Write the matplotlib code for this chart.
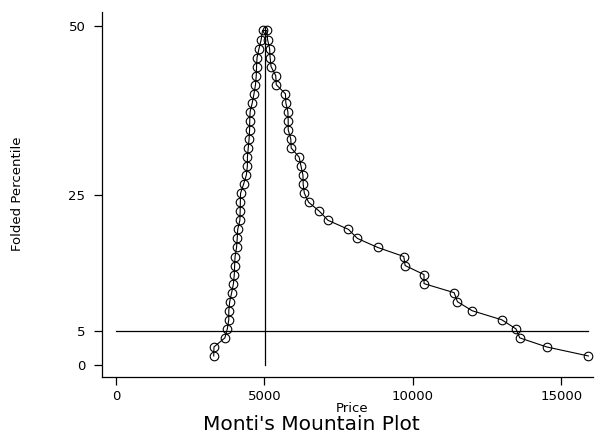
import numpy as np
import matplotlib
matplotlib.use("Agg")
import matplotlib.pyplot as plt

price = [3291, 3299, 3667, 3748, 3798, 3799, 3829, 3895, 3955, 3984, 3995, 4010,
         4060, 4082, 4099, 4172, 4181, 4187, 4195, 4296, 4389, 4424, 4425, 4453,
         4482, 4499, 4504, 4516, 4589, 4647, 4697, 4723, 4733, 4749, 4816, 4890,
         4934, 5079, 5104, 5172, 5189, 5222, 5379, 5397, 5705, 5719, 5788, 5798,
         5799, 5886, 5899, 6165, 6229, 6295, 6303, 6342, 6486, 6850, 7140, 7827,
         8129, 8814, 9690, 9735, 10371, 10372, 11385, 11497, 11995, 12990, 13466,
         13594, 14500, 15906]
xticks = [0, 5000, 10000, 15000]
yticks = [0, 5, 25, 50]

x = np.sort(np.array(price, dtype=float))
n = len(x)
pct = np.arange(1, n + 1) / (n + 1) * 100
folded = np.where(pct > 50, 100 - pct, pct)
median = np.median(x)

plt.rcParams['font.family'] = ['DejaVu Sans']
fig = plt.figure(figsize=(5.95, 4.34), dpi=100)
ax = fig.add_axes([0.1714, 0.1313, 0.8252, 0.8411])

ax.plot(x, folded, color='black', lw=0.8, marker='o', ms=6.2,
        mfc='none', mec='black', mew=0.8)
ax.plot([median, median], [0, 50], color='black', lw=0.9)
ax.plot([0, x.max()], [5, 5], color='black', lw=0.9)

ax.set_xlim(-471, 16060)
ax.set_ylim(-1.77, 52.06)
ax.set_xticks(xticks)
ax.set_yticks(yticks)
ax.set_xticklabels([str(t) for t in xticks])
ax.set_yticklabels([str(t) for t in yticks])
for s in ['top', 'right']:
    ax.spines[s].set_visible(False)
for s in ['left', 'bottom']:
    ax.spines[s].set_linewidth(0.9)
ax.tick_params(direction='out', length=6, width=0.9, labelsize=9.5, pad=3)
ax.tick_params(axis='y', pad=6)

fig.text(352 / 595, 1 - 408 / 434, 'Price', fontsize=9.5,
         ha='center', va='center')
fig.text(18 / 595, 1 - 194 / 434, 'Folded Percentile', rotation=90,
         fontsize=9.5, ha='center', va='center')
fig.text(311 / 595, 1 - 429.5 / 434, "Monti's Mountain Plot", fontsize=14.5,
         ha='center', va='baseline')

fig.savefig('out.png', dpi=100)
